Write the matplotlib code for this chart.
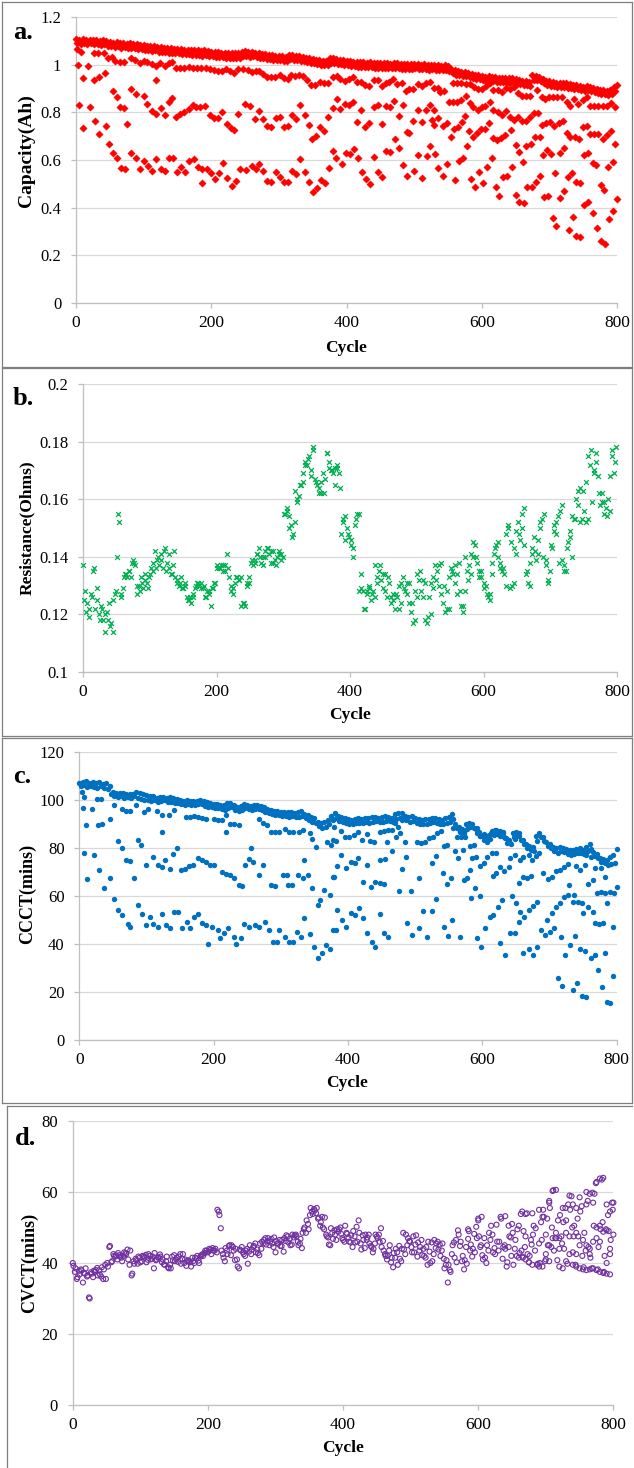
import numpy as np
import matplotlib
matplotlib.use("Agg")
import matplotlib.pyplot as plt
from matplotlib.lines import Line2D

plt.rcParams["font.family"] = ["Liberation Serif", "DejaVu Serif"]

# ------------------------------------------------------------------ data
cycle_ticks = [0, 200, 400, 600, 800]

# a. capacity (Ah) - dense upper band, two interleaved rows
a_band_hi_cycle = np.arange(0, 801, 5)
a_band_hi = [
    1.108, 1.104, 1.106, 1.103, 1.105, 1.102, 1.104, 1.100, 1.103, 1.099,
    1.095, 1.093, 1.094, 1.090, 1.091, 1.088, 1.089, 1.086, 1.085, 1.082,
    1.081, 1.079, 1.077, 1.078, 1.074, 1.073, 1.072, 1.070, 1.069, 1.067,
    1.066, 1.064, 1.063, 1.062, 1.061, 1.060, 1.061, 1.058, 1.060, 1.057,
    1.055, 1.054, 1.052, 1.051, 1.050, 1.050, 1.049, 1.048, 1.050, 1.055,
    1.056, 1.054, 1.055, 1.050, 1.047, 1.045, 1.043, 1.041, 1.040, 1.038,
    1.037, 1.035, 1.034, 1.042, 1.041, 1.038, 1.036, 1.033, 1.030, 1.027,
    1.024, 1.020, 1.018, 1.016, 1.017, 1.027, 1.026, 1.022, 1.020, 1.018,
    1.017, 1.015, 1.013, 1.012, 1.010, 1.011, 1.009, 1.010, 1.008, 1.008,
    1.007, 1.006, 1.005, 1.004, 1.006, 1.005, 1.003, 1.002, 1.003, 1.001,
    1.004, 1.002, 1.000, 1.001, 0.999, 1.000, 0.998, 0.997, 0.996, 0.997,
    0.995, 0.982, 0.976, 0.972, 0.970, 0.971, 0.967, 0.962, 0.958, 0.956,
    0.953, 0.950, 0.952, 0.949, 0.947, 0.946, 0.944, 0.943, 0.942, 0.943,
    0.938, 0.934, 0.932, 0.930, 0.928, 0.955, 0.952, 0.950, 0.938, 0.933,
    0.930, 0.926, 0.924, 0.922, 0.925, 0.921, 0.918, 0.915, 0.914, 0.910,
    0.908, 0.910, 0.906, 0.903, 0.898, 0.895, 0.893, 0.890, 0.892, 0.905,
    0.915]
a_band_lo_cycle = np.arange(2, 800, 5)
a_band_lo = [
    1.092, 1.088, 1.090, 1.086, 1.089, 1.085, 1.087, 1.083, 1.086, 1.080,
    1.077, 1.075, 1.078, 1.072, 1.074, 1.070, 1.071, 1.068, 1.066, 1.064,
    1.062, 1.061, 1.058, 1.060, 1.055, 1.054, 1.052, 1.051, 1.050, 1.048,
    1.047, 1.045, 1.044, 1.043, 1.041, 1.040, 1.042, 1.038, 1.039, 1.036,
    1.035, 1.034, 1.032, 1.031, 1.030, 1.029, 1.030, 1.028, 1.030, 1.036,
    1.037, 1.034, 1.035, 1.031, 1.028, 1.026, 1.024, 1.022, 1.021, 1.019,
    1.018, 1.016, 1.015, 1.022, 1.021, 1.019, 1.017, 1.014, 1.011, 1.008,
    1.005, 1.002, 0.999, 0.997, 0.999, 1.008, 1.006, 1.003, 1.001, 0.999,
    0.997, 0.995, 0.994, 0.992, 0.991, 0.990, 0.989, 0.990, 0.988, 0.987,
    0.987, 0.986, 0.985, 0.984, 0.986, 0.985, 0.983, 0.982, 0.983, 0.981,
    0.984, 0.982, 0.980, 0.981, 0.979, 0.980, 0.978, 0.977, 0.976, 0.977,
    0.975, 0.963, 0.958, 0.955, 0.952, 0.953, 0.949, 0.944, 0.940, 0.938,
    0.935, 0.933, 0.934, 0.931, 0.929, 0.928, 0.926, 0.925, 0.924, 0.925,
    0.920, 0.917, 0.915, 0.913, 0.911, 0.937, 0.934, 0.932, 0.921, 0.916,
    0.912, 0.909, 0.907, 0.905, 0.907, 0.904, 0.901, 0.898, 0.897, 0.893,
    0.891, 0.893, 0.889, 0.886, 0.882, 0.879, 0.877, 0.874, 0.876, 0.889]

# a. capacity - cycles that fall below the main band
a_upper = [
    (2, 1.065), (8, 1.052), (3, 0.999), (18, 0.995), (10, 0.946), (27, 1.05), (33, 1.05),
    (42, 1.05), (27, 0.936), (34, 0.95), (43, 0.964), (48, 1.027), (53, 1.034), (58, 1.016),
    (65, 1.01), (71, 1.01), (54, 0.89), (60, 0.863), (81, 1.027), (87, 1.02), (94, 1.006),
    (100, 1.016), (105, 1.01), (112, 1.003), (118, 0.995), (81, 0.897), (88, 0.877),
    (100, 0.869), (118, 0.936), (124, 1.008), (131, 0.995), (137, 1.006), (142, 1.013),
    (142, 0.859), (148, 0.987), (154, 0.987), (160, 0.988), (167, 0.989), (173, 0.988),
    (179, 0.987), (185, 0.988), (192, 0.986), (198, 0.98), (204, 0.977), (210, 0.973),
    (216, 0.973), (222, 0.98), (228, 0.973), (234, 0.965), (240, 0.98), (247, 0.98),
    (255, 0.977), (260, 0.968), (266, 0.975), (271, 0.974), (277, 0.96), (283, 0.95),
    (289, 0.947), (294, 0.95), (301, 0.957), (307, 0.943), (313, 0.94), (318, 0.957),
    (324, 0.953), (330, 0.957), (336, 0.954), (342, 0.936), (348, 0.915), (354, 0.915),
    (361, 0.929), (367, 0.925), (373, 0.925), (380, 0.95), (386, 0.953), (391, 0.939),
    (398, 0.932), (404, 0.939), (410, 0.947), (416, 0.929), (422, 0.929), (428, 0.915),
    (434, 0.912), (441, 0.936), (446, 0.936), (452, 0.912), (458, 0.925), (463, 0.929),
    (469, 0.939), (475, 0.919), (482, 0.925), (488, 0.891), (493, 0.897), (499, 0.898),
    (505, 0.919), (511, 0.911), (517, 0.922), (524, 0.929), (529, 0.904), (536, 0.901),
    (539, 0.887), (544, 0.891), (552, 0.842), (558, 0.842), (564, 0.842), (570, 0.852),
    (576, 0.869), (557, 0.924), (563, 0.924), (570, 0.922), (576, 0.92), (582, 0.92),
    (583, 0.838), (587, 0.821), (594, 0.81), (600, 0.824), (605, 0.827), (612, 0.842),
    (588, 0.905), (594, 0.9), (600, 0.897), (606, 0.91), (612, 0.922), (617, 0.894),
    (624, 0.894), (630, 0.887), (636, 0.901), (642, 0.897), (648, 0.908), (654, 0.883),
    (660, 0.869), (666, 0.869), (671, 0.869), (681, 0.894), (689, 0.866), (694, 0.855),
    (700, 0.863), (706, 0.863), (712, 0.866), (718, 0.866), (726, 0.845), (730, 0.828),
    (736, 0.855), (743, 0.834), (749, 0.852), (755, 0.866), (760, 0.827), (766, 0.827),
    (772, 0.827), (779, 0.827), (785, 0.827), (791, 0.841), (797, 0.824)]
a_mid = [
    (4, 0.831), (20, 0.821), (11, 0.733), (28, 0.764), (34, 0.708), (44, 0.744), (65, 0.824),
    (71, 0.817), (76, 0.75), (105, 0.835), (112, 0.807), (118, 0.793), (125, 0.817),
    (131, 0.789), (137, 0.842), (148, 0.782), (154, 0.792), (160, 0.801), (167, 0.813),
    (173, 0.831), (178, 0.824), (184, 0.821), (191, 0.827), (198, 0.789), (204, 0.775),
    (210, 0.778), (216, 0.803), (223, 0.751), (229, 0.733), (234, 0.726), (240, 0.793),
    (250, 0.835), (257, 0.827), (265, 0.771), (271, 0.807), (277, 0.771), (283, 0.743),
    (289, 0.737), (296, 0.775), (302, 0.779), (307, 0.737), (313, 0.743), (319, 0.789),
    (325, 0.772), (331, 0.831), (338, 0.789), (344, 0.747), (349, 0.687), (355, 0.702),
    (361, 0.737), (367, 0.723), (373, 0.779), (380, 0.82), (386, 0.856), (391, 0.813),
    (398, 0.834), (404, 0.831), (410, 0.845), (416, 0.761), (422, 0.81), (428, 0.737),
    (434, 0.754), (441, 0.821), (446, 0.831), (452, 0.751), (458, 0.827), (464, 0.821),
    (470, 0.849), (477, 0.785), (483, 0.831), (489, 0.716), (493, 0.715), (499, 0.765),
    (505, 0.81), (511, 0.761), (517, 0.81), (524, 0.831), (529, 0.81), (536, 0.775),
    (526, 0.768), (530, 0.745), (542, 0.743), (548, 0.754), (554, 0.695), (559, 0.73),
    (565, 0.74), (571, 0.761), (575, 0.785), (581, 0.723), (587, 0.698), (593, 0.712),
    (599, 0.729), (605, 0.729), (610, 0.757), (617, 0.81), (624, 0.803), (630, 0.789),
    (636, 0.806), (642, 0.782), (648, 0.768), (654, 0.779), (660, 0.765), (666, 0.765),
    (671, 0.779), (677, 0.799), (683, 0.799), (617, 0.691), (623, 0.684), (629, 0.691),
    (635, 0.705), (643, 0.726), (650, 0.663), (655, 0.635), (666, 0.659), (673, 0.667),
    (679, 0.698), (686, 0.698), (689, 0.747), (695, 0.757), (701, 0.761), (707, 0.743),
    (714, 0.757), (720, 0.765), (726, 0.715), (731, 0.695), (738, 0.695), (744, 0.687),
    (750, 0.737), (756, 0.743), (760, 0.709), (766, 0.709), (772, 0.709), (779, 0.687),
    (785, 0.705), (791, 0.723), (797, 0.667)]
a_low = [
    (49, 0.666), (54, 0.628), (61, 0.607), (66, 0.568), (72, 0.562), (82, 0.628), (89, 0.607),
    (95, 0.562), (101, 0.597), (106, 0.576), (112, 0.555), (118, 0.603), (125, 0.562),
    (132, 0.555), (138, 0.61), (144, 0.61), (150, 0.548), (156, 0.572), (161, 0.551),
    (167, 0.596), (174, 0.604), (180, 0.569), (186, 0.561), (187, 0.502), (193, 0.561),
    (200, 0.544), (206, 0.52), (211, 0.544), (218, 0.589), (224, 0.523), (230, 0.492),
    (236, 0.512), (242, 0.562), (251, 0.558), (260, 0.576), (266, 0.561), (271, 0.582),
    (277, 0.555), (283, 0.512), (289, 0.509), (296, 0.55), (302, 0.527), (307, 0.508),
    (314, 0.509), (320, 0.555), (325, 0.541), (331, 0.603), (338, 0.551), (344, 0.508),
    (350, 0.467), (356, 0.484), (362, 0.516), (368, 0.502), (374, 0.565), (380, 0.639),
    (385, 0.607), (393, 0.582), (399, 0.628), (405, 0.624), (411, 0.645), (417, 0.61),
    (423, 0.551), (429, 0.519), (435, 0.498), (441, 0.611), (447, 0.548), (453, 0.53),
    (459, 0.639), (465, 0.632), (471, 0.688), (477, 0.652), (483, 0.579), (489, 0.533),
    (500, 0.555), (506, 0.621), (512, 0.526), (519, 0.617), (524, 0.66), (531, 0.624),
    (536, 0.565), (542, 0.533), (548, 0.582), (560, 0.516), (567, 0.596), (572, 0.607),
    (578, 0.659), (584, 0.519), (590, 0.488), (596, 0.551), (602, 0.505), (608, 0.572),
    (615, 0.607), (621, 0.488), (626, 0.449), (632, 0.53), (638, 0.534), (644, 0.572),
    (650, 0.453), (655, 0.425), (661, 0.593), (662, 0.421), (667, 0.486), (674, 0.488),
    (680, 0.506), (686, 0.533), (691, 0.621), (697, 0.642), (702, 0.624), (692, 0.443),
    (698, 0.449), (709, 0.547), (716, 0.439), (722, 0.471), (705, 0.355), (710, 0.323),
    (716, 0.631), (722, 0.649), (727, 0.527), (734, 0.544), (739, 0.508), (745, 0.502),
    (729, 0.306), (735, 0.36), (740, 0.282), (746, 0.276), (751, 0.621), (757, 0.631),
    (751, 0.411), (757, 0.425), (764, 0.586), (769, 0.579), (764, 0.376), (771, 0.313),
    (776, 0.495), (781, 0.474), (776, 0.261), (782, 0.248), (787, 0.569), (794, 0.593),
    (788, 0.351), (794, 0.386), (800, 0.436)]

# b. internal resistance (Ohms)
b_main_cycle = np.arange(0, 799, 3)
b_main = [
    0.137, 0.128, 0.124, 0.119, 0.127, 0.135, 0.122, 0.125, 0.120, 0.123,
    0.118, 0.114, 0.121, 0.124, 0.117, 0.114, 0.127, 0.140, 0.152, 0.126,
    0.129, 0.134, 0.133, 0.135, 0.133, 0.139, 0.137, 0.127, 0.130, 0.133,
    0.129, 0.134, 0.131, 0.133, 0.136, 0.135, 0.142, 0.139, 0.137, 0.141,
    0.136, 0.143, 0.138, 0.141, 0.134, 0.137, 0.133, 0.132, 0.130, 0.133,
    0.129, 0.131, 0.126, 0.125, 0.124, 0.126, 0.129, 0.131, 0.130, 0.131,
    0.129, 0.126, 0.128, 0.127, 0.123, 0.129, 0.131, 0.137, 0.136, 0.137,
    0.135, 0.137, 0.141, 0.133, 0.130, 0.127, 0.131, 0.133, 0.132, 0.133,
    0.124, 0.123, 0.130, 0.131, 0.138, 0.137, 0.139, 0.141, 0.143, 0.138,
    0.140, 0.142, 0.143, 0.141, 0.138, 0.142, 0.139, 0.140, 0.142, 0.141,
    0.140, 0.155, 0.156, 0.154, 0.151, 0.148, 0.152, 0.159, 0.161, 0.165,
    0.169, 0.173, 0.172, 0.175, 0.168, 0.178, 0.167, 0.165, 0.162, 0.166,
    0.169, 0.167, 0.176, 0.173, 0.170, 0.169, 0.165, 0.171, 0.169, 0.148,
    0.152, 0.154, 0.150, 0.147, 0.144, 0.140, 0.151, 0.155, 0.128, 0.134,
    0.128, 0.122, 0.127, 0.130, 0.125, 0.128, 0.137, 0.133, 0.135, 0.132,
    0.134, 0.128, 0.126, 0.131, 0.124, 0.127, 0.122, 0.126, 0.130, 0.124,
    0.133, 0.128, 0.131, 0.124, 0.121, 0.117, 0.128, 0.134, 0.132, 0.128,
    0.126, 0.118, 0.117, 0.126, 0.131, 0.133, 0.137, 0.135, 0.130, 0.127,
    0.124, 0.121, 0.128, 0.133, 0.136, 0.134, 0.131, 0.127, 0.138, 0.123,
    0.121, 0.128, 0.135, 0.137, 0.141, 0.140, 0.144, 0.138, 0.133, 0.135,
    0.131, 0.130, 0.126, 0.127, 0.134, 0.141, 0.144, 0.140, 0.136, 0.135,
    0.134, 0.148, 0.151, 0.129, 0.130, 0.143, 0.149, 0.152, 0.146, 0.155,
    0.157, 0.134, 0.131, 0.138, 0.143, 0.147, 0.139, 0.141, 0.150, 0.153,
    0.155, 0.139, 0.132, 0.135, 0.143, 0.149, 0.152, 0.154, 0.156, 0.139,
    0.137, 0.135, 0.145, 0.149, 0.154, 0.153, 0.160, 0.163, 0.152, 0.153,
    0.156, 0.166, 0.175, 0.172, 0.159, 0.169, 0.176, 0.168, 0.158, 0.162,
    0.155, 0.157, 0.160, 0.168, 0.175, 0.169, 0.178]
b_extra_cycle = np.arange(1, 794, 8)
b_extra = [
    0.125, 0.122, 0.136, 0.118, 0.120, 0.116, 0.128, 0.127, 0.134, 0.138,
    0.130, 0.131, 0.129, 0.138, 0.140, 0.142, 0.136, 0.142, 0.131, 0.130,
    0.126, 0.130, 0.129, 0.126, 0.129, 0.136, 0.137, 0.136, 0.129, 0.132,
    0.124, 0.133, 0.138, 0.140, 0.140, 0.142, 0.137, 0.139, 0.157, 0.147,
    0.160, 0.166, 0.174, 0.177, 0.164, 0.162, 0.171, 0.171, 0.164, 0.146,
    0.146, 0.153, 0.129, 0.128, 0.127, 0.131, 0.129, 0.133, 0.125, 0.122,
    0.129, 0.131, 0.118, 0.135, 0.131, 0.120, 0.132, 0.138, 0.122, 0.135,
    0.134, 0.123, 0.132, 0.145, 0.135, 0.129, 0.125, 0.143, 0.138, 0.130,
    0.145, 0.141, 0.150, 0.135, 0.141, 0.146, 0.140, 0.131, 0.151, 0.138,
    0.135, 0.147, 0.153, 0.164, 0.152, 0.177, 0.173, 0.159, 0.154, 0.177]
b_extra2_cycle = np.arange(5, 798, 8)
b_extra2 = [
    0.121, 0.126, 0.129, 0.122, 0.118, 0.125, 0.155, 0.133, 0.135, 0.138,
    0.128, 0.132, 0.134, 0.136, 0.139, 0.135, 0.134, 0.131, 0.129, 0.125,
    0.127, 0.131, 0.130, 0.128, 0.131, 0.136, 0.135, 0.128, 0.133, 0.123,
    0.131, 0.139, 0.141, 0.137, 0.143, 0.138, 0.141, 0.155, 0.150, 0.163,
    0.165, 0.172, 0.170, 0.166, 0.162, 0.176, 0.170, 0.172, 0.153, 0.148,
    0.143, 0.155, 0.122, 0.129, 0.126, 0.137, 0.134, 0.126, 0.127, 0.131,
    0.127, 0.124, 0.126, 0.132, 0.119, 0.129, 0.137, 0.130, 0.122, 0.137,
    0.128, 0.140, 0.134, 0.140, 0.133, 0.127, 0.138, 0.145, 0.136, 0.150,
    0.131, 0.148, 0.144, 0.130, 0.142, 0.152, 0.137, 0.144, 0.148, 0.158,
    0.143, 0.140, 0.158, 0.163, 0.153, 0.170, 0.162, 0.159, 0.156, 0.173]

# c. constant-current charge time (mins)
c_band_hi_cycle = np.arange(0, 801, 5)
c_band_hi = [
    107.0, 107.5, 107.8, 107.2, 107.4, 107.0, 107.3, 106.8, 106.9, 106.0,
    103.5, 103.0, 102.8, 103.0, 102.6, 102.4, 102.5, 103.2, 102.8, 102.3,
    102.0, 101.6, 101.5, 101.0, 101.2, 101.4, 100.8, 101.2, 101.0, 100.4,
    100.0, 99.6, 99.8, 99.5, 99.6, 99.7, 100.0, 99.4, 99.0, 98.8,
    98.5, 98.2, 98.0, 97.8, 98.6, 98.9, 97.8, 97.2, 97.5, 98.5,
    98.0, 97.6, 97.9, 98.0, 97.7, 97.2, 96.2, 95.8, 95.5, 95.6,
    95.2, 95.0, 94.8, 95.0, 94.6, 94.9, 95.4, 94.2, 93.6, 93.0,
    92.4, 91.0, 90.5, 90.8, 91.8, 93.5, 94.5, 93.2, 92.8, 92.5,
    92.0, 91.8, 92.0, 92.4, 92.2, 92.6, 92.5, 92.8, 93.0, 92.6,
    92.8, 93.2, 93.0, 92.7, 94.0, 94.5, 94.4, 93.5, 92.8, 93.2,
    92.5, 92.0, 91.8, 91.9, 92.2, 92.6, 92.4, 92.0, 91.8, 92.3,
    93.0, 94.2, 90.0, 88.6, 87.8, 89.8, 90.6, 90.2, 88.0, 86.5,
    85.0, 84.0, 85.5, 87.2, 87.6, 86.8, 86.2, 84.0, 83.5, 86.2,
    86.8, 85.0, 83.2, 81.5, 81.0, 80.5, 84.8, 86.2, 84.6, 82.5,
    81.8, 80.5, 79.8, 80.6, 80.0, 79.4, 79.0, 79.2, 79.5, 79.8,
    79.2, 80.6, 81.5, 78.5, 77.6, 76.0, 75.5, 74.8, 76.2, 77.0,
    79.5]
c_band_lo_cycle = np.arange(2, 800, 5)
c_band_lo = [
    105.8, 106.2, 105.5, 106.0, 105.6, 105.2, 105.9, 105.0, 104.5, 102.5,
    101.8, 101.2, 101.5, 101.0, 101.3, 100.8, 101.6, 101.0, 100.6, 100.2,
    100.0, 99.6, 99.8, 99.2, 99.5, 99.8, 99.0, 99.3, 98.9, 98.6,
    98.2, 98.0, 98.3, 97.8, 98.0, 98.2, 98.4, 97.6, 97.2, 97.0,
    96.8, 96.5, 96.2, 96.0, 96.8, 97.0, 95.9, 95.5, 96.0, 96.8,
    96.2, 96.0, 96.4, 96.1, 95.8, 95.2, 94.5, 94.0, 93.6, 93.8,
    93.4, 93.2, 93.0, 93.4, 92.8, 93.0, 93.5, 92.5, 91.8, 91.0,
    90.4, 89.2, 88.5, 88.8, 89.9, 91.6, 92.6, 91.4, 91.0, 90.6,
    90.2, 90.0, 90.4, 90.6, 90.4, 90.8, 90.6, 91.0, 91.2, 90.8,
    91.0, 91.4, 91.2, 90.9, 92.2, 92.6, 92.5, 91.6, 91.0, 91.3,
    90.6, 90.2, 90.0, 90.2, 90.4, 90.8, 90.6, 90.2, 90.0, 90.5,
    91.0, 92.0, 88.2, 86.8, 86.2, 88.0, 88.8, 88.4, 86.2, 84.8,
    83.2, 82.4, 83.8, 85.4, 85.8, 85.0, 84.4, 82.2, 81.8, 84.4,
    85.0, 83.2, 81.5, 79.8, 79.2, 78.8, 83.0, 84.4, 82.8, 80.8,
    80.0, 78.8, 78.0, 78.8, 78.2, 77.6, 77.2, 77.4, 77.8, 78.0,
    77.4, 78.8, 79.6, 76.8, 75.8, 74.2, 73.6, 73.0, 73.2, 73.8]

# c. charge time - cycles below the main band (first half / second half)
c_early = [
    (4, 103.3), (5, 96.7), (7, 101.2), (10, 89.5), (7, 78.1), (11, 67.0), (19, 96.1), (22, 77.0),
    (26, 100.6), (33, 100.6), (28, 89.5), (34, 90.2), (30, 70.7), (37, 63.5), (45, 92.2),
    (46, 67.3), (52, 58.9), (51, 97.8), (57, 82.8), (58, 54.1), (63, 52.0), (63, 80.0),
    (63, 96.4), (69, 95.3), (75, 95.3), (69, 74.9), (75, 74.5), (72, 48.5), (76, 47.2),
    (81, 67.3), (85, 97.8), (87, 83.5), (87, 56.2), (92, 81.1), (93, 52.7), (96, 95.0),
    (99, 73.1), (99, 47.9), (102, 96.4), (105, 51.3), (110, 76.3), (110, 48.5), (116, 95.3),
    (117, 72.8), (117, 47.2), (123, 86.7), (123, 93.6), (123, 72.1), (123, 52.7), (128, 74.9),
    (129, 47.9), (134, 93.6), (135, 71.4), (135, 46.7), (140, 77.7), (141, 95.7), (141, 53.4),
    (147, 53.4), (146, 79.8), (152, 70.7), (153, 46.5), (158, 71.4), (159, 92.9), (160, 49.2),
    (165, 93.0), (171, 93.2), (177, 92.8), (183, 92.6), (189, 92.0), (164, 72.5), (170, 73.1),
    (177, 76.0), (165, 46.5), (171, 51.3), (177, 52.7), (183, 74.9), (189, 74.2), (195, 72.8),
    (183, 48.8), (189, 47.9), (192, 40.2), (198, 47.2), (201, 72.8), (201, 92.2), (207, 91.5),
    (213, 91.5), (219, 93.6), (206, 45.8), (212, 70.0), (218, 69.3), (224, 68.7), (230, 67.3),
    (210, 42.3), (216, 44.4), (222, 46.7), (219, 86.7), (225, 90.2), (231, 90.2), (237, 89.5),
    (230, 43.0), (234, 40.2), (237, 64.5), (242, 64.2), (240, 42.3), (245, 48.5), (246, 73.1),
    (252, 75.6), (258, 74.2), (252, 47.2), (255, 79.8), (261, 47.9), (267, 47.2), (267, 92.2),
    (273, 90.6), (267, 68.7), (273, 72.8), (276, 49.2), (279, 89.5), (285, 86.7), (291, 86.7),
    (297, 86.7), (282, 45.8), (285, 64.5), (291, 64.2), (288, 40.9), (294, 40.9), (297, 45.8),
    (303, 68.9), (309, 68.9), (306, 43.0), (306, 88.1), (312, 86.7), (318, 86.7), (311, 64.5),
    (317, 64.5), (312, 40.9), (318, 40.9), (324, 45.1), (326, 68.9), (327, 86.7), (333, 87.4),
    (330, 43.0), (333, 67.3), (335, 74.9), (335, 50.9), (340, 68.9), (343, 86.4), (343, 44.1),
    (347, 83.9), (347, 63.4), (349, 38.8), (353, 80.4), (355, 34.0), (355, 56.2), (359, 58.3),
    (361, 36.1), (364, 62.4), (367, 39.5), (368, 82.5), (373, 60.3), (373, 38.1), (374, 81.1),
    (379, 68.0), (382, 82.8), (382, 45.8)]
c_late = [
    (377, 83.3), (379, 88.9), (377, 68.1), (384, 72.5), (390, 77.1), (390, 87.2), (397, 71.5),
    (396, 84.4), (402, 84.4), (409, 85.4), (415, 86.8), (421, 83.3), (428, 85.8), (433, 83.0),
    (439, 82.6), (404, 74.3), (410, 73.9), (415, 75.7), (422, 66.0), (428, 72.9), (434, 63.9),
    (440, 66.0), (378, 45.8), (384, 54.2), (391, 50.0), (397, 47.0), (404, 52.8), (410, 52.1),
    (417, 54.9), (423, 50.7), (429, 44.7), (435, 41.0), (440, 38.9), (447, 52.5), (454, 44.7),
    (459, 42.8), (448, 65.3), (454, 65.0), (448, 75.0), (455, 75.3), (448, 86.8), (454, 87.2),
    (460, 87.5), (466, 87.5), (458, 82.6), (470, 90.3), (475, 88.9), (480, 91.7), (465, 78.9),
    (472, 84.7), (478, 86.4), (485, 82.6), (476, 62.2), (481, 71.1), (487, 76.4), (488, 48.9),
    (494, 62.1), (495, 43.7), (502, 82.6), (508, 82.2), (515, 82.6), (506, 46.5), (506, 67.4),
    (512, 53.9), (518, 43.1), (525, 53.9), (525, 73.9), (531, 58.6), (531, 76.7), (521, 84.0),
    (527, 84.4), (532, 86.4), (538, 87.2), (543, 80.8), (548, 81.2), (542, 69.4), (548, 65.0),
    (554, 67.4), (543, 47.2), (549, 43.3), (555, 50.0), (557, 88.2), (559, 78.9), (564, 75.7),
    (571, 79.2), (567, 43.0), (572, 66.7), (577, 67.4), (582, 70.8), (562, 84.7), (568, 84.7),
    (574, 84.4), (567, 87.2), (573, 86.8), (582, 80.8), (588, 81.2), (583, 59.0), (589, 63.2),
    (596, 60.0), (592, 42.4), (598, 38.9), (604, 46.5), (584, 75.7), (591, 76.1), (596, 72.5),
    (602, 73.9), (607, 76.4), (614, 78.1), (620, 77.8), (592, 88.2), (597, 85.0), (602, 85.8),
    (607, 85.0), (613, 86.1), (619, 87.5), (626, 87.2), (631, 86.8), (616, 68.3), (621, 69.7),
    (627, 72.2), (632, 70.6), (639, 72.2), (611, 51.4), (616, 52.1), (624, 55.6), (629, 58.3),
    (626, 40.6), (634, 35.4), (641, 44.4), (649, 44.7), (655, 49.3), (634, 84.0), (641, 82.2),
    (649, 83.6), (654, 86.4), (641, 75.7), (649, 77.1), (655, 65.6), (661, 68.0), (667, 67.4),
    (673, 68.3), (644, 60.0), (650, 56.9), (656, 53.5), (662, 51.4), (669, 54.2), (675, 55.8),
    (681, 57.6), (656, 75.0), (661, 76.4), (669, 77.1), (674, 75.0), (680, 76.7), (685, 77.8),
    (661, 36.1), (669, 37.8), (675, 35.4), (681, 38.9), (687, 45.8), (693, 43.8), (700, 45.1),
    (706, 46.5), (691, 69.4), (697, 66.9), (703, 67.8), (710, 70.6), (716, 70.8), (722, 72.0),
    (728, 73.3), (696, 50.0), (703, 52.8), (710, 55.6), (716, 56.9), (721, 59.7), (728, 60.4),
    (735, 57.6), (712, 25.7), (718, 22.5), (735, 20.8), (741, 23.6), (748, 18.3), (754, 17.8),
    (717, 43.0), (723, 35.4), (731, 39.6), (738, 43.3), (745, 37.8), (753, 37.2), (729, 64.6),
    (736, 60.4), (743, 57.6), (749, 57.2), (739, 72.5), (746, 70.8), (753, 72.9), (750, 52.8),
    (758, 55.3), (764, 53.5), (770, 61.4), (776, 61.8), (783, 61.4), (761, 34.3), (767, 35.4),
    (772, 29.1), (778, 21.9), (785, 16.0), (790, 15.3), (758, 65.0), (764, 66.7), (776, 71.5),
    (783, 68.1), (768, 48.6), (774, 48.3), (780, 48.6), (786, 56.9), (748, 79.2), (754, 77.1),
    (761, 76.4), (768, 71.5), (790, 61.8), (796, 61.1), (800, 63.9), (794, 47.2), (795, 26.7),
    (783, 36.4)]

# d. constant-voltage charge time (mins)
d_main_cycle = np.arange(0, 799, 3)
d_main = [
    40.0, 37.5, 35.5, 37.8, 38.2, 34.5, 37.0, 36.2, 30.3, 37.4,
    36.0, 37.5, 38.6, 38.0, 36.2, 35.5, 39.5, 40.0, 44.5, 40.2,
    42.5, 41.8, 41.0, 42.2, 41.5, 42.0, 42.8, 43.8, 39.5, 36.5,
    40.5, 41.2, 39.8, 41.5, 40.5, 41.9, 42.3, 40.9, 42.0, 41.2,
    38.5, 40.8, 41.5, 42.4, 40.2, 39.6, 40.5, 38.8, 39.5, 41.8,
    42.2, 41.0, 40.3, 42.5, 41.2, 40.0, 39.2, 40.8, 40.2, 41.5,
    40.0, 41.3, 40.7, 41.8, 42.5, 42.8, 43.5, 43.2, 43.8, 44.2,
    43.5, 43.0, 54.5, 49.8, 42.5, 40.5, 43.5, 44.8, 42.2, 44.5,
    40.8, 41.0, 38.5, 43.5, 43.0, 42.0, 44.0, 43.2, 42.5, 44.5,
    45.5, 43.8, 42.2, 44.0, 45.5, 47.0, 46.2, 45.0, 46.8, 44.5,
    43.0, 45.5, 46.5, 44.8, 43.2, 46.2, 47.5, 46.8, 45.2, 47.2,
    48.0, 46.0, 45.5, 44.2, 49.5, 48.5, 51.0, 53.5, 54.5, 55.2,
    54.0, 52.5, 50.5, 53.0, 49.5, 48.0, 47.2, 45.0, 48.5, 49.2,
    46.5, 48.8, 50.0, 47.0, 46.0, 48.5, 47.2, 45.8, 44.5, 47.5,
    50.2, 52.0, 45.5, 47.8, 44.2, 46.5, 48.0, 44.8, 43.0, 45.5,
    47.5, 48.0, 49.8, 46.2, 42.5, 41.0, 43.5, 40.2, 38.8, 41.5,
    43.0, 44.8, 40.5, 48.5, 42.5, 45.0, 46.2, 44.5, 47.5, 45.2,
    41.8, 43.5, 46.5, 44.0, 41.5, 39.5, 43.2, 45.8, 42.5, 44.2,
    46.0, 45.2, 43.5, 41.2, 39.5, 34.5, 38.0, 42.5, 45.8, 46.5,
    49.2, 44.8, 40.5, 38.2, 44.5, 46.8, 43.5, 41.8, 48.2, 50.2,
    52.0, 44.5, 42.2, 47.0, 40.0, 43.5, 46.5, 48.0, 44.2, 50.8,
    43.5, 53.0, 41.2, 45.0, 39.0, 44.5, 47.2, 48.5, 44.0, 42.0,
    50.5, 53.8, 41.5, 44.5, 54.0, 40.2, 46.5, 48.0, 43.5, 39.5,
    45.5, 51.5, 55.0, 40.5, 52.5, 57.0, 44.5, 60.5, 47.0, 40.8,
    44.0, 47.5, 51.5, 55.5, 39.8, 42.5, 58.8, 47.5, 39.5, 52.5,
    45.0, 56.0, 38.8, 43.5, 57.5, 44.0, 38.5, 50.5, 62.5, 38.2,
    46.0, 63.5, 37.5, 49.5, 53.5, 42.5, 57.0]
d_extra_cycle = np.arange(1, 800, 6)
d_extra = [
    39.2, 36.0, 37.9, 38.5, 30.0, 37.8, 36.5, 38.8, 35.5, 44.8,
    42.0, 42.8, 40.5, 42.5, 43.5, 39.8, 41.8, 42.0, 40.2, 41.0,
    42.8, 41.5, 41.0, 41.8, 38.5, 40.5, 41.8, 42.5, 40.5, 39.0,
    41.5, 40.0, 42.0, 43.0, 42.5, 44.0, 53.5, 41.5, 42.5, 45.0,
    44.0, 43.8, 42.5, 39.8, 43.8, 43.0, 45.5, 46.5, 47.0, 45.5,
    46.2, 44.8, 47.0, 45.8, 48.0, 47.5, 46.8, 50.0, 49.5, 53.8,
    55.5, 51.5, 52.8, 45.2, 46.8, 49.5, 48.2, 50.5, 46.0, 49.0,
    46.0, 43.8, 48.0, 45.5, 44.0, 47.0, 44.5, 42.0, 45.0, 42.8,
    39.5, 44.0, 48.0, 46.0, 43.0, 45.8, 42.2, 44.5, 40.0, 46.5,
    43.8, 45.5, 40.8, 37.5, 41.5, 48.0, 42.0, 39.8, 45.2, 43.0,
    47.5, 41.0, 45.0, 50.5, 42.5, 46.0, 44.5, 40.2, 42.0, 46.5,
    42.8, 49.0, 42.5, 45.2, 49.8, 40.0, 53.0, 45.0, 50.0, 47.0,
    53.5, 44.0, 56.5, 50.0, 42.5, 54.5, 48.5, 44.5, 59.8, 47.0,
    49.5, 42.0, 49.0, 55.0]
d_extra2_cycle = np.arange(4, 797, 6)
d_extra2 = [
    38.5, 36.8, 37.2, 36.5, 37.0, 38.0, 36.8, 38.2, 39.0, 40.5,
    42.2, 41.8, 43.0, 41.0, 37.0, 40.8, 40.2, 41.5, 42.5, 41.8,
    41.0, 41.8, 39.5, 38.5, 40.8, 41.5, 39.8, 41.0, 40.5, 40.5,
    42.0, 42.2, 43.5, 44.0, 43.5, 55.0, 43.5, 44.2, 45.0, 43.5,
    39.0, 44.5, 43.5, 45.0, 44.8, 42.8, 46.0, 45.2, 46.0, 47.2,
    45.5, 46.5, 47.8, 45.0, 47.8, 45.0, 48.5, 52.0, 55.5, 54.8,
    52.8, 50.0, 47.5, 49.8, 48.0, 49.5, 46.5, 48.2, 47.8, 45.8,
    48.5, 46.5, 47.2, 44.5, 48.0, 46.0, 43.5, 42.0, 41.5, 44.0,
    41.2, 43.8, 47.0, 43.0, 47.8, 44.5, 42.0, 46.0, 40.5, 45.5,
    42.0, 38.5, 39.5, 45.0, 40.2, 46.0, 40.8, 49.0, 44.0, 47.0,
    45.0, 41.5, 48.5, 43.0, 46.0, 52.5, 44.0, 47.5, 39.5, 49.5,
    43.5, 47.5, 42.0, 50.5, 39.8, 46.5, 42.5, 55.5, 43.5, 52.0,
    45.5, 40.5, 55.0, 50.5, 47.5, 42.0, 56.5, 41.5, 59.5, 44.5,
    51.5, 40.0, 46.5]
d_late = [
    (705, 57.5), (710, 60.3), (715, 60.6), (735, 59.0), (740, 56.5), (745, 55.5), (750, 58.5),
    (760, 60.0), (765, 59.5), (775, 62.8), (780, 63.8), (785, 64.0), (725, 55.5), (730, 52.0),
    (770, 57.0), (790, 56.5), (795, 54.5), (800, 57.0), (720, 39.0), (725, 38.5), (740, 39.5),
    (745, 39.0), (750, 38.5), (755, 38.2), (760, 38.0), (765, 38.2), (770, 38.5), (775, 38.0),
    (780, 37.5), (785, 37.2), (790, 37.0), (795, 36.8), (660, 41.5), (665, 41.8), (670, 41.0),
    (675, 40.2), (680, 39.5), (690, 39.0), (695, 39.0), (700, 41.0), (705, 40.5), (700, 48.0),
    (705, 45.0), (710, 47.0), (715, 48.5), (720, 47.0), (730, 48.5), (735, 47.5), (740, 43.0),
    (745, 48.5), (755, 46.5), (760, 45.0), (765, 42.5), (775, 50.0), (780, 50.5), (790, 49.2),
    (795, 44.0), (800, 48.0), (785, 48.8), (770, 46.0), (640, 53.2), (645, 50.5), (650, 51.0),
    (665, 54.5), (670, 53.8), (680, 54.0), (690, 55.0), (695, 53.0), (600, 52.5), (605, 53.0),
    (585, 49.5)]

# axis scales and labels
a_yticks = [0, 0.2, 0.4, 0.6, 0.8, 1.0, 1.2]
a_yticklabels = ["0", "0.2", "0.4", "0.6", "0.8", "1", "1.2"]
b_yticks = [0.10, 0.12, 0.14, 0.16, 0.18, 0.20]
b_yticklabels = ["0.1", "0.12", "0.14", "0.16", "0.18", "0.2"]
c_yticks = [0, 20, 40, 60, 80, 100, 120]
d_yticks = [0, 20, 40, 60, 80]

# ------------------------------------------------------------------ style
W, H = 634, 1468
RED, GREEN, BLUE, PURPLE = "#ff0000", "#00b050", "#0070c0", "#7030a0"
GRID, AXIS, FRAME = "#d9d9d9", "#bfbfbf", "#7f7f7f"

fig = plt.figure(figsize=(W / 100, H / 100), dpi=100)
fig.patch.set_facecolor("white")


def fx(px):
    return px / W


def fy(py):
    return 1 - py / H


def axes_px(left, right, top, bottom):
    return fig.add_axes([fx(left), fy(bottom), (right - left) / W, (bottom - top) / H])


def frame_px(left, right, top, bottom, sides=("l", "r", "t", "b")):
    segs = {"l": ([left, left], [top, bottom]), "r": ([right, right], [top, bottom]),
            "t": ([left, right], [top, top]), "b": ([left, right], [bottom, bottom])}
    for s in sides:
        xs, ys = segs[s]
        fig.add_artist(Line2D([fx(v) for v in xs], [fy(v) for v in ys],
                              transform=fig.transFigure, color=FRAME, lw=0.9))


def style_axes(ax, ylim, yticks, yticklabels):
    ax.set_xlim(0, 800)
    ax.set_ylim(*ylim)
    ax.set_xticks(cycle_ticks)
    ax.set_xticklabels([str(t) for t in cycle_ticks])
    ax.set_yticks(yticks)
    ax.set_yticklabels(yticklabels)
    ax.grid(axis="y", color=GRID, lw=0.9)
    ax.set_axisbelow(True)
    for s in ("top", "right"):
        ax.spines[s].set_visible(False)
    for s in ("left", "bottom"):
        ax.spines[s].set_color(AXIS)
        ax.spines[s].set_linewidth(0.9)
    ax.tick_params(axis="x", length=3.6, width=0.9, color=AXIS, pad=5, labelsize=12.5)
    ax.tick_params(axis="y", length=3.6, width=0.9, color=AXIS, pad=7, labelsize=12)
    ax.set_facecolor("white")


def label_px(x, y, s, size, rotation=0, weight="bold", va="center", ha="center"):
    fig.text(fx(x), fy(y), s, fontsize=size, fontweight=weight, rotation=rotation,
             ha=ha, va=va)


def pairs(points):
    xs, ys = zip(*points)
    return list(xs), list(ys)


# ---- a. capacity
frame_px(2, 632, 2, 367)
ax_a = axes_px(76, 617, 17, 303)
style_axes(ax_a, (0, 1.2), a_yticks, a_yticklabels)
kw_a = dict(marker="D", s=14, c=RED, linewidths=0.3, edgecolors=RED, clip_on=False, zorder=3)
ax_a.scatter(a_band_hi_cycle, a_band_hi, **kw_a)
ax_a.scatter(a_band_lo_cycle, a_band_lo, **kw_a)
for grp in (a_upper, a_mid, a_low):
    gx, gy = pairs(grp)
    ax_a.scatter(gx, gy, **kw_a)
label_px(26, 151, "Capacity(Ah)", 14, rotation=90)
label_px(346, 348, "Cycle", 12.5)
label_px(13, 39, "a.", 19, va="baseline", ha="left")

# ---- b. resistance
frame_px(2, 632, 368, 736)
ax_b = axes_px(83, 617, 384, 672)
style_axes(ax_b, (0.1, 0.2), b_yticks, b_yticklabels)
kw_b = dict(marker="x", s=12, c=GREEN, linewidths=0.9, clip_on=False, zorder=3)
ax_b.scatter(b_main_cycle, b_main, **kw_b)
ax_b.scatter(b_extra_cycle, b_extra, **kw_b)
ax_b.scatter(b_extra2_cycle, b_extra2, **kw_b)
label_px(27, 528, "Resistance(Ohms)", 12.5, rotation=90)
label_px(350, 715, "Cycle", 12.5)
label_px(13, 405, "b.", 19, va="baseline", ha="left")

# ---- c. CC charge time
frame_px(2, 632, 738, 1103)
ax_c = axes_px(79.3, 616.7, 752, 1040)
style_axes(ax_c, (0, 120), c_yticks, [str(t) for t in c_yticks])
kw_c = dict(marker="o", s=15, c=BLUE, linewidths=0, clip_on=False, zorder=3)
ax_c.scatter(c_band_hi_cycle, c_band_hi, **kw_c)
ax_c.scatter(c_band_lo_cycle, c_band_lo, **kw_c)
for grp in (c_early, c_late):
    gx, gy = pairs(grp)
    ax_c.scatter(gx, gy, **kw_c)
label_px(27, 894, "CCCT(mins)", 13, rotation=90)
label_px(347, 1083, "Cycle", 12.5)
label_px(13, 783, "c.", 19, va="baseline", ha="left")

# ---- d. CV charge time
frame_px(7, 632, 1106, 1468, sides=("l", "t"))
ax_d = axes_px(72.8, 613.4, 1121, 1405)
style_axes(ax_d, (0, 80), d_yticks, [str(t) for t in d_yticks])
kw_d = dict(marker="o", s=13, facecolors="none", edgecolors=PURPLE, linewidths=0.8,
            clip_on=False, zorder=3)
ax_d.scatter(d_main_cycle, d_main, **kw_d)
ax_d.scatter(d_extra_cycle, d_extra, **kw_d)
ax_d.scatter(d_extra2_cycle, d_extra2, **kw_d)
gx, gy = pairs(d_late)
ax_d.scatter(gx, gy, **kw_d)
label_px(29, 1263, "CVCT(mins)", 13, rotation=90)
label_px(343, 1448, "Cycle", 12.5)
label_px(15, 1145, "d.", 19, va="baseline", ha="left")

fig.savefig("out.png", dpi=100, facecolor="white")
